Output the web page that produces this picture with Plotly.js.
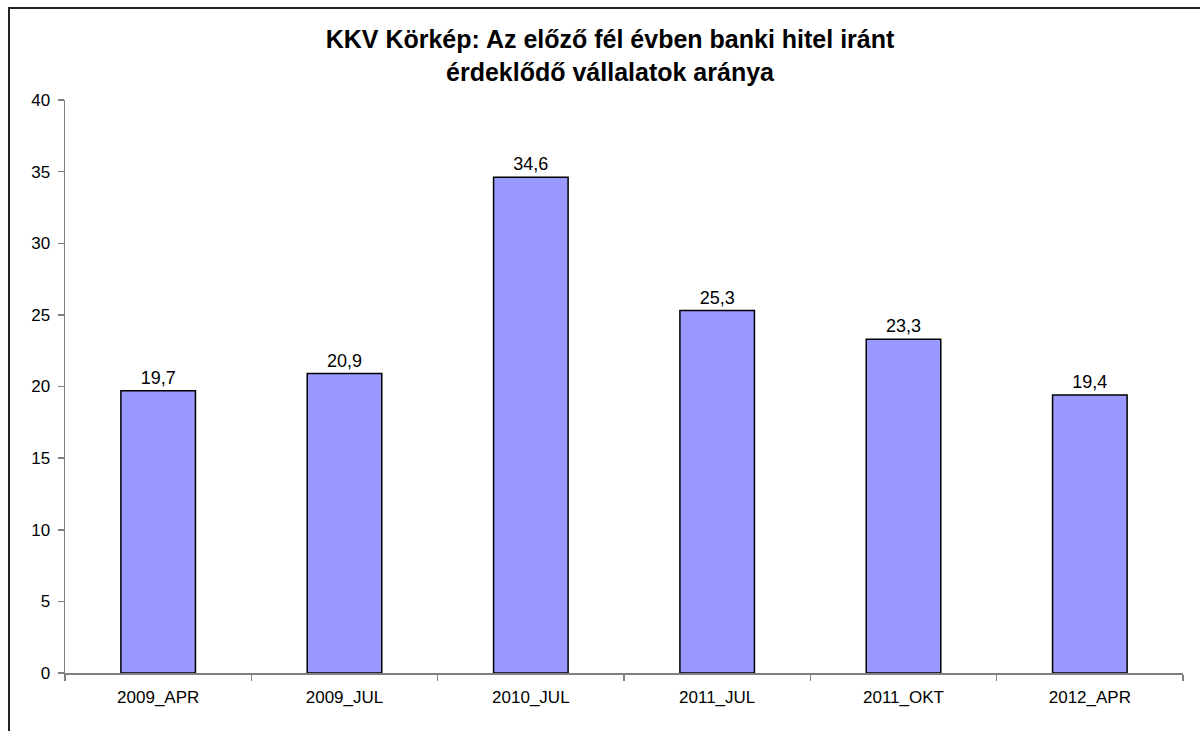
<!DOCTYPE html>
<html>
<head>
<meta charset="utf-8">
<script src="https://cdn.plot.ly/plotly-3.0.1.min.js"></script>
<style>
  html, body { margin:0; padding:0; background:#fff; }
  #wrap { position:relative; width:1200px; height:731px; overflow:hidden; }
  #chart { width:1200px; height:731px; }
  #frame { position:absolute; left:8px; top:7px; width:1300px; height:800px;
           border-left:2px solid #222; border-top:2px solid #222; pointer-events:none; }
</style>
</head>
<body>
<div id="wrap">
  <div id="chart"></div>
  <div id="frame"></div>
</div>
<script>
const categories = ['2009_APR', '2009_JUL', '2010_JUL', '2011_JUL', '2011_OKT', '2012_APR'];
const values = [19.7, 20.9, 34.6, 25.3, 23.3, 19.4];
const titleLines = ['KKV Körkép: Az előző fél évben banki hitel iránt', 'érdeklődő vállalatok aránya'];

const font = 'Liberation Sans, Arial, sans-serif';

Plotly.newPlot('chart', [{
  type: 'bar',
  x: categories,
  y: values,
  marker: { color: '#9999FF', line: { color: '#000000', width: 1.5 } },
  width: 0.4,
  text: values,
  texttemplate: '%{y:.1f}',
  textposition: 'outside',
  cliponaxis: false,
  textfont: { family: font, size: 18, color: '#000' },
  hoverinfo: 'skip'
}], {
  width: 1200,
  height: 731,
  separators: ', ',
  paper_bgcolor: '#fff',
  plot_bgcolor: '#fff',
  margin: { l: 65, r: 17, t: 100, b: 58 },
  showlegend: false,
  font: { family: font, size: 17, color: '#000' },
  title: {
    text: titleLines.map(s => '<b>' + s + '</b>').join('<br>'),
    font: { family: font, size: 25, color: '#000' },
    x: 610 / 1200, xanchor: 'center', xref: 'container',
    y: 1 - 48 / 731, yanchor: 'top', yref: 'container'
  },
  xaxis: {
    type: 'category',
    showline: true, linecolor: '#808080', linewidth: 1.5,
    ticks: 'outside', tickson: 'boundaries', ticklen: 6, tickcolor: '#808080', tickwidth: 1.5,
    ticklabelstandoff: 8,
    showgrid: false, zeroline: false,
    tickfont: { family: font, size: 17, color: '#000' }
  },
  yaxis: {
    range: [0, 40], dtick: 5, tick0: 0,
    showline: true, linecolor: '#808080', linewidth: 1.5,
    ticks: 'outside', ticklen: 6, tickcolor: '#808080', tickwidth: 1.5,
    ticklabelstandoff: 4,
    showgrid: false, zeroline: false,
    tickfont: { family: font, size: 17, color: '#000' }
  },
  bargap: 0.6
}, { displayModeBar: false, staticPlot: true });
</script>
</body>
</html>
